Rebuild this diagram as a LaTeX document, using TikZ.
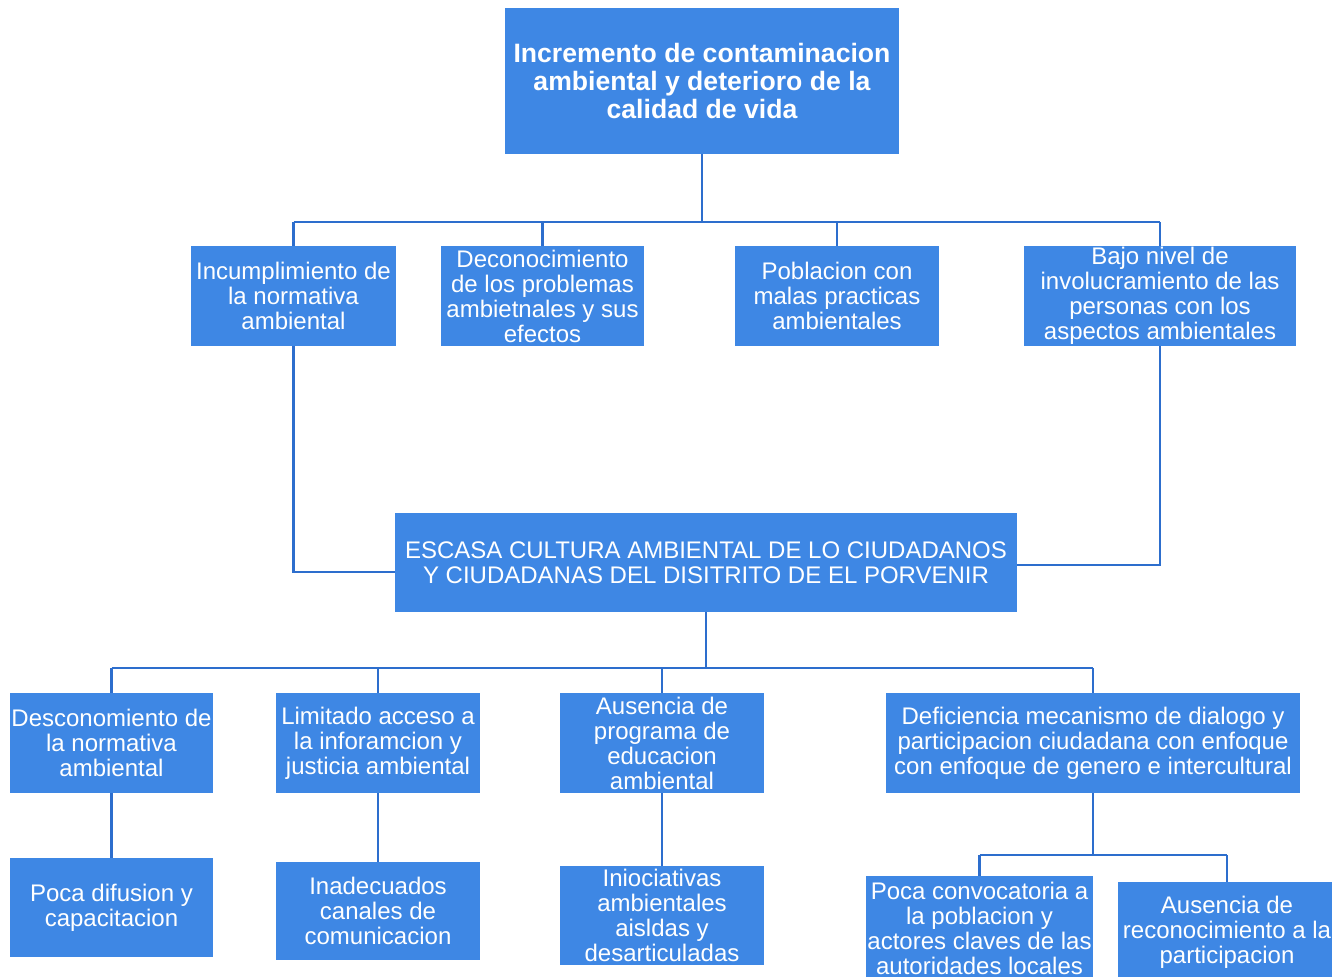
\documentclass[tikz,border=0pt]{standalone}
\usepackage{fontspec}
\setmainfont{Liberation Sans}
\usetikzlibrary{positioning}

\definecolor{boxblue}{RGB}{62,135,228}
\definecolor{lineblue}{RGB}{45,110,205}

\begin{document}
\begin{tikzpicture}[
    x=0.5pt, y=-0.5pt,
    cause box/.style={fill=boxblue, text=white, align=center, inner sep=0pt,
        font=\fontsize{12}{12.5}\selectfont},
    small box/.style={cause box, minimum width=102pt, minimum height=50pt},
    link line/.style={lineblue, line width=1.1pt}
    ]
    \useasboundingbox (0,0) rectangle (1332,977);
    % effect on top
    \node[cause box, minimum width=197pt, minimum height=73pt,
        font=\fontsize{13.3}{14}\selectfont\bfseries] (effect) at (702,81)
        {Incremento de contaminacion\\ambiental y deterioro de la\\calidad de vida};
    % first row
    \node[small box, minimum width=102.5pt] (incump) at (293.5,296)
        {Incumplimiento de\\la normativa\\ambiental};
    \node[small box, minimum width=101.5pt] (descon) at (542.5,296)
        {Deconocimiento\\de los problemas\\ambietnales y sus\\efectos};
    \node[small box] (poblac) at (837,296)
        {Poblacion con\\malas practicas\\ambientales};
    \node[small box, minimum width=136pt] (bajo) at (1160,296)
        {Bajo nivel de\\involucramiento de las\\personas con los\\aspectos ambientales};
    % main problem
    \node[cause box, minimum width=311pt, minimum height=49.5pt] (problem) at (706,562.5)
        {ESCASA CULTURA AMBIENTAL DE LO CIUDADANOS\\Y CIUDADANAS DEL DISITRITO DE EL PORVENIR};
    % second row
    \node[small box, minimum width=101.5pt] (desnorm) at (111.5,743)
        {Desconomiento de\\la normativa\\ambiental};
    \node[small box] (acceso) at (378,743)
        {Limitado acceso a\\la inforamcion y\\justicia ambiental};
    \node[small box] (ausprog) at (662,743)
        {Ausencia de\\programa de\\educacion\\ambiental};
    \node[small box, minimum width=207pt] (defic) at (1093,743)
        {Deficiencia mecanismo de dialogo y\\participacion ciudadana con enfoque\\con enfoque de genero e intercultural};
    % third row
    \node[small box, minimum width=101.5pt, minimum height=49.5pt] (difus) at (111.5,907.5)
        {Poca difusion y\\capacitacion};
    \node[small box, minimum height=49pt] (canales) at (378,911)
        {Inadecuados\\canales de\\comunicacion};
    \node[small box, minimum height=49.5pt] (inic) at (662,915.5)
        {Iniociativas\\ambientales\\aisldas y\\desarticuladas};
    \node[small box, minimum width=113.5pt, minimum height=52pt] (convoc) at (979.5,928)
        {Poca convocatoria a\\la poblacion y\\actores claves de las\\autoridades locales};
    \node[small box, minimum width=109pt] (recon) at (1227,932)
        {Ausencia de\\reconocimiento a la\\participacion};
    % bus lines
    \coordinate (topbus) at (702,222);
    \coordinate (midbus) at (706,668);
    \coordinate (lowbus) at (1093,855);
    \draw[link line] (effect) -- (topbus);
    \draw[link line] (incump |- topbus) -- (bajo |- topbus);
    \foreach \n in {incump,descon,poblac,bajo}
        \draw[link line] (\n |- topbus) -- (\n.north);
    \draw[link line] (incump.south) |- ([yshift=-4.75pt]problem.west);
    \draw[link line] (bajo.south) |- ([yshift=-1.25pt]problem.east);
    \draw[link line] (problem) -- (midbus);
    \draw[link line] (desnorm |- midbus) -- (defic |- midbus);
    \foreach \n in {desnorm,acceso,ausprog,defic}
        \draw[link line] (\n |- midbus) -- (\n.north);
    % down to the third row
    \draw[link line] (desnorm) -- (difus);
    \draw[link line] (acceso) -- (canales);
    \draw[link line] (ausprog) -- (inic);
    \draw[link line] (defic) -- (lowbus);
    \draw[link line] (convoc |- lowbus) -- (recon |- lowbus);
    \foreach \n in {convoc,recon}
        \draw[link line] (\n |- lowbus) -- (\n.north);
\end{tikzpicture}
\end{document}
